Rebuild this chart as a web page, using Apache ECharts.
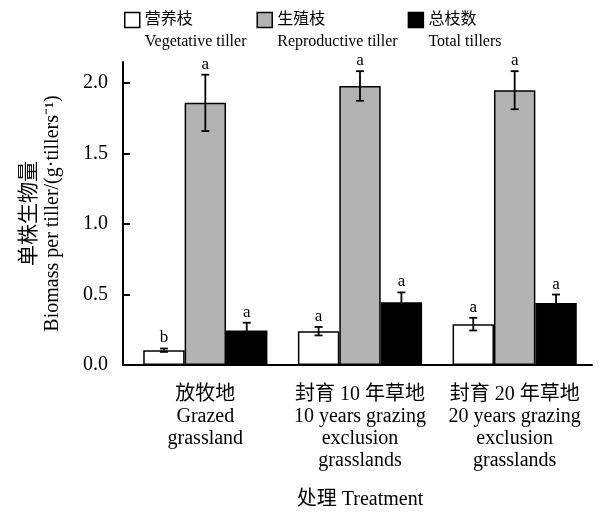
<!DOCTYPE html>
<html>
<head>
<meta charset="utf-8">
<script src="https://cdn.jsdelivr.net/npm/echarts@6/dist/echarts.min.js"></script>
<style>
  html, body { margin: 0; padding: 0; background: #fff; }
  #main { width: 599px; height: 513px; }
</style>
</head>
<body>
<div id="main"></div>
<script>
// 数据
var categories = [
  '放牧地\nGrazed\ngrassland',
  '封育 10 年草地\n10 years grazing\nexclusion\ngrasslands',
  '封育 20 年草地\n20 years grazing\nexclusion\ngrasslands'
];
var seriesNames = ['营养枝', '生殖枝', '总枝数'];
var seriesNamesEn = ['Vegetative tiller', 'Reproductive tiller', 'Total tillers'];
var vegMean = [0.105, 0.24, 0.29];
var vegErr = [0.012, 0.03, 0.045];
var vegSig = ['b', 'a', 'a'];
var repMean = [1.86, 1.98, 1.95];
var repErr = [0.2, 0.105, 0.135];
var repSig = ['a', 'a', 'a'];
var totMean = [0.245, 0.445, 0.44];
var totErr = [0.055, 0.07, 0.06];
var totSig = ['a', 'a', 'a'];
var yTicks = [0, 0.5, 1.0, 1.5, 2.0];

var FONT = '"Liberation Serif", "Noto Sans CJK SC", serif';
var GAP = 0.197;
var colors = ['#ffffff', '#b3b3b3', '#000000'];

var myChart = echarts.init(document.getElementById('main'));

function barSeries(k, means) {
  return {
    name: seriesNames[k],
    type: 'bar',
    data: means,
    barGap: '0%',
    barCategoryGap: (GAP * 100) + '%',
    itemStyle: { color: colors[k], borderColor: '#000', borderWidth: 1.5 },
    emphasis: { disabled: true },
    z: 2
  };
}

// 误差线 + 显著性字母
function errSeries(k, means, errs, sigs) {
  return {
    type: 'custom',
    name: 'err' + k,
    silent: true,
    z: 10,
    encode: { x: 0, y: 1 },
    data: means.map(function (m, i) { return [i, m, errs[i]]; }),
    renderItem: function (params, api) {
      var i = api.value(0);
      var m = api.value(1);
      var e = api.value(2);
      var band = api.size([1, 0])[0];
      var bw = band * (1 - GAP) / 3;
      var c = api.coord([i, m]);
      var x = c[0] + (k - 1) * bw;
      var top = api.coord([i, m + e])[1];
      var bot = api.coord([i, m - e])[1];
      var cap = 4;
      var ls = { stroke: '#000', lineWidth: 1.8 };
      return {
        type: 'group',
        children: [
          { type: 'line', shape: { x1: x, y1: top, x2: x, y2: bot }, style: ls },
          { type: 'line', shape: { x1: x - cap, y1: top, x2: x + cap, y2: top }, style: ls },
          { type: 'line', shape: { x1: x - cap, y1: bot, x2: x + cap, y2: bot }, style: ls },
          {
            type: 'text',
            style: {
              text: sigs[params.dataIndex], x: x, y: top - 2,
              align: 'center', verticalAlign: 'bottom',
              fontSize: 17, fontFamily: FONT, fill: '#000'
            }
          }
        ]
      };
    }
  };
}

var option = {
  animation: false,
  textStyle: { fontFamily: FONT, color: '#000' },
  legend: {
    data: seriesNames,
    left: 124,
    top: -13,
    padding: 0,
    itemGap: 10,
    itemWidth: 15,
    itemHeight: 15,
    icon: 'rect',
    selectedMode: false,
    itemStyle: { borderColor: '#000', borderWidth: 1.5 },
    formatter: function (name) {
      var k = seriesNames.indexOf(name);
      return '{sp| }\n{cn|' + name + '}\n{en|' + seriesNamesEn[k] + '}';
    },
    textStyle: {
      fontFamily: FONT, fontSize: 16, color: '#000', lineHeight: 22,
      rich: {
        sp: { fontSize: 16, lineHeight: 22 },
        cn: { fontSize: 16, lineHeight: 22, fontFamily: FONT },
        en: { fontSize: 16, lineHeight: 22, fontFamily: FONT }
      }
    }
  },
  grid: { left: 128, right: 7, top: 62, bottom: 148, containLabel: false, outerBoundsMode: 'none' },
  xAxis: {
    type: 'category',
    data: categories,
    name: '处理 Treatment',
    nameLocation: 'middle',
    nameGap: 124,
    nameTextStyle: { fontFamily: FONT, fontSize: 20, color: '#000', lineHeight: 22 },
    axisLine: { onZero: false, lineStyle: { color: '#000', width: 2 } },
    axisTick: { inside: true, length: 5, lineStyle: { color: '#000', width: 2 } },
    axisLabel: {
      interval: 0, margin: 19, fontFamily: FONT, fontSize: 20, color: '#000',
      lineHeight: 22, align: 'center'
    },
    splitLine: { show: false }
  },
  yAxis: {
    type: 'value',
    min: 0,
    max: 2.15,
    interval: 0.5,
    offset: 5,
    name: '{cn|单株生物量}\n{en|Biomass per tiller/(g·tillers⁻¹)}',
    nameLocation: 'middle',
    nameRotate: 90,
    nameGap: 59,
    nameTextStyle: {
      fontFamily: FONT, fontSize: 20, color: '#000', lineHeight: 23,
      rich: {
        cn: { fontSize: 21, lineHeight: 23, fontFamily: FONT },
        en: { fontSize: 20, lineHeight: 23, fontFamily: FONT }
      }
    },
    axisLine: { show: true, lineStyle: { color: '#000', width: 2 } },
    axisTick: {
      show: true, inside: true, length: 7, customValues: yTicks,
      lineStyle: { color: '#000', width: 2 }
    },
    axisLabel: {
      margin: 15, fontFamily: FONT, fontSize: 20, color: '#000',
      formatter: function (v) { return yTicks.indexOf(v) >= 0 ? v.toFixed(1) : ''; }
    },
    splitLine: { show: false }
  },
  graphic: [
    // 补齐坐标轴拐角
    { type: 'line', shape: { x1: 122, y1: 365, x2: 129, y2: 365 }, style: { stroke: '#000', lineWidth: 2 }, z: 100 }
  ],
  series: [
    barSeries(0, vegMean),
    barSeries(1, repMean),
    barSeries(2, totMean),
    errSeries(0, vegMean, vegErr, vegSig),
    errSeries(1, repMean, repErr, repSig),
    errSeries(2, totMean, totErr, totSig)
  ]
};

myChart.setOption(option);
</script>
</body>
</html>
